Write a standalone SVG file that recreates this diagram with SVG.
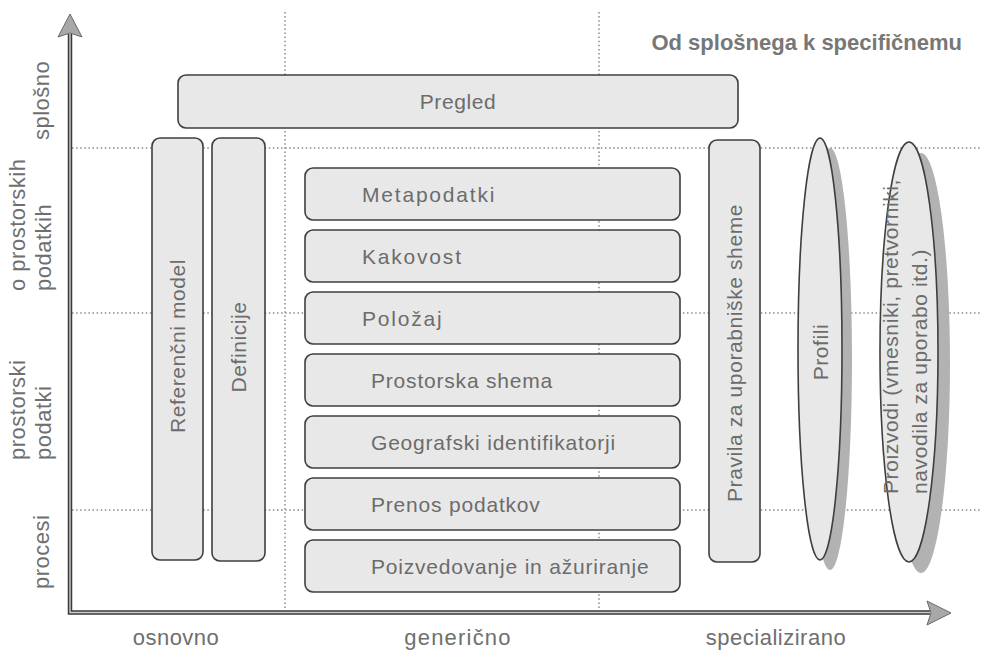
<svg xmlns="http://www.w3.org/2000/svg" width="981" height="653" viewBox="0 0 981 653">
<defs>
<style>
.box{fill:#e8e8e8;stroke:#3f3f3f;stroke-width:1.6}
.lbl{font-family:"Liberation Sans",Arial,sans-serif;font-size:21px;fill:#6c6c6c;letter-spacing:0.6px}
.wide{letter-spacing:1.8px}
.mid{letter-spacing:0.8px}
.ax{font-family:"Liberation Sans",Arial,sans-serif;font-size:22px;fill:#6f6f6f;letter-spacing:0.5px}
.grid{stroke:#8a8a8a;stroke-width:1.5;stroke-dasharray:1.5 2.6;fill:none}
.shadow{fill:#b2b2b2}
.axis-out{stroke:#3a3a3a;stroke-width:4.5;fill:none}
.axis-in{stroke:#d0d0d0;stroke-width:1.4;fill:none}
.head{fill:#a8a8a8;stroke:#6a6a6a;stroke-width:1}
</style>
</defs>
<rect width="981" height="653" fill="#ffffff"/>

<g id="connectors">
  <line class="grid" x1="72" y1="148" x2="981" y2="148"/>
  <line class="grid" x1="72" y1="313" x2="981" y2="313"/>
  <line class="grid" x1="72" y1="510" x2="981" y2="510"/>
  <line class="grid" x1="285" y1="12" x2="285" y2="610"/>
  <line class="grid" x1="599" y1="12" x2="599" y2="610"/>
  <path class="axis-out" d="M70,34 L70,612.5 L930,612.5"/>
  <path class="axis-in" d="M70,34 L70,612.5 L930,612.5"/>
  <path class="head" d="M70,14 L82,37 L70,33 L58,37 Z"/>
  <path class="head" d="M951,613 L927,625 L931,613 L927,601 Z"/>
</g>

<g id="pregled">
  <rect class="box" x="178" y="75" width="560" height="53" rx="8"/>
  <text class="lbl" x="458" y="109" text-anchor="middle">Pregled</text>
</g>

<g id="referencni-model">
  <rect class="box" x="152" y="138" width="51" height="422" rx="8"/>
  <text class="lbl" transform="translate(185,346) rotate(-90)" text-anchor="middle">Referenčni model</text>
</g>

<g id="definicije">
  <rect class="box" x="212" y="138" width="53" height="423" rx="8"/>
  <text class="lbl" transform="translate(246,347) rotate(-90)" text-anchor="middle">Definicije</text>
</g>

<g id="metapodatki">
  <rect class="box" x="305" y="168" width="375" height="52" rx="8"/>
  <text class="lbl wide" x="362" y="202">Metapodatki</text>
</g>
<g id="kakovost">
  <rect class="box" x="305" y="230" width="375" height="52" rx="8"/>
  <text class="lbl wide" x="362" y="264">Kakovost</text>
</g>
<g id="polozaj">
  <rect class="box" x="305" y="292" width="375" height="52" rx="8"/>
  <text class="lbl wide" x="362" y="326">Položaj</text>
</g>
<g id="prostorska-shema">
  <rect class="box" x="305" y="354" width="375" height="52" rx="8"/>
  <text class="lbl mid" x="371" y="388">Prostorska shema</text>
</g>
<g id="geografski-identifikatorji">
  <rect class="box" x="305" y="416" width="375" height="52" rx="8"/>
  <text class="lbl mid" x="371" y="450">Geografski identifikatorji</text>
</g>
<g id="prenos-podatkov">
  <rect class="box" x="305" y="478" width="375" height="52" rx="8"/>
  <text class="lbl mid" x="371" y="512">Prenos podatkov</text>
</g>
<g id="poizvedovanje">
  <rect class="box" x="305" y="540" width="375" height="52" rx="8"/>
  <text class="lbl mid" x="371" y="574">Poizvedovanje in ažuriranje</text>
</g>

<g id="pravila">
  <rect class="box" x="709" y="140" width="51" height="422" rx="8"/>
  <text class="lbl" transform="translate(742,353) rotate(-90)" text-anchor="middle">Pravila za uporabniške sheme</text>
</g>

<g id="profili">
  <ellipse class="shadow" cx="830" cy="359" rx="22" ry="211"/>
  <ellipse class="box" cx="820" cy="349" rx="22" ry="211"/>
  <text class="lbl" transform="translate(828,352) rotate(-90)" text-anchor="middle">Profili</text>
</g>

<g id="proizvodi">
  <ellipse class="shadow" cx="921" cy="363" rx="29" ry="210"/>
  <ellipse class="box" cx="909" cy="352" rx="29" ry="210"/>
  <text class="lbl" transform="translate(898,494) rotate(-90)">Proizvodi (vmesniki, pretvorniki,</text>
  <text class="lbl" transform="translate(927,494) rotate(-90)">navodila za uporabo itd.)</text>
</g>

<g id="title">
  <text x="962" y="50" text-anchor="end" style="font-family:'Liberation Sans',Arial,sans-serif;font-size:22px;font-weight:bold;fill:#777">Od splošnega k specifičnemu</text>
</g>

<g id="axis-labels">
  <text class="ax" x="176" y="645" text-anchor="middle">osnovno</text>
  <text class="ax" x="458" y="645" text-anchor="middle" style="letter-spacing:1.2px">generično</text>
  <text class="ax" x="776" y="645" text-anchor="middle">specializirano</text>
  <text class="ax" transform="translate(49,140) rotate(-90)">splošno</text>
  <text class="ax" transform="translate(25,291) rotate(-90)">o prostorskih</text>
  <text class="ax" transform="translate(51,291) rotate(-90)">podatkih</text>
  <text class="ax" transform="translate(25,460) rotate(-90)">prostorski</text>
  <text class="ax" transform="translate(51,460) rotate(-90)">podatki</text>
  <text class="ax" transform="translate(49,589) rotate(-90)">procesi</text>
</g>
</svg>
